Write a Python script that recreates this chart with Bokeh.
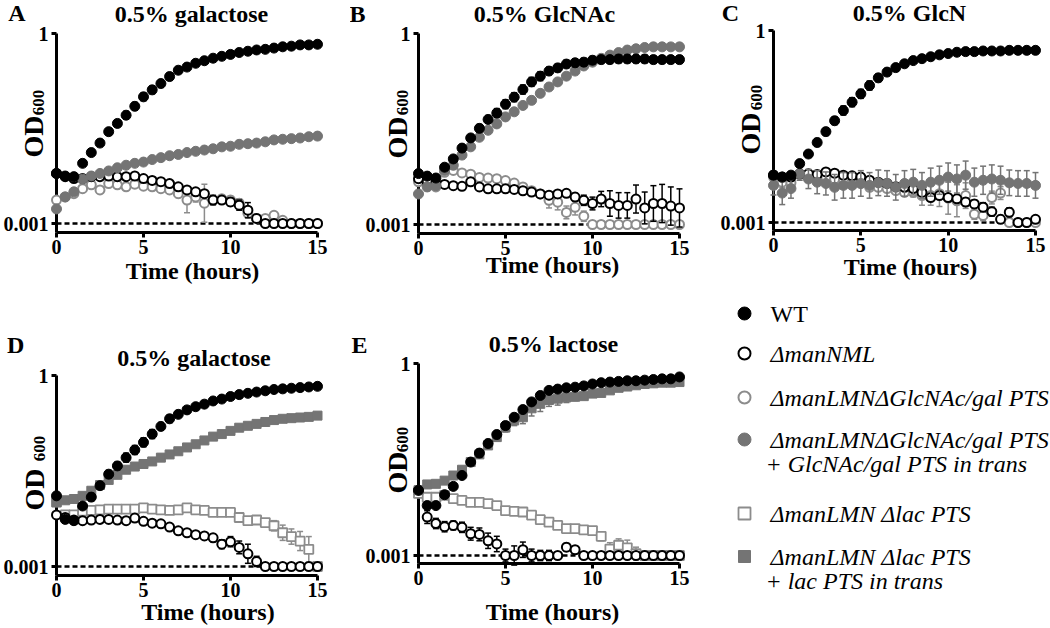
import numpy as np
from bokeh.plotting import figure
from bokeh.models import ColumnDataSource, Range1d, FixedTicker, Span
from bokeh.layouts import row, column
from bokeh.embed import file_html
from bokeh.resources import INLINE
from bokeh.core.properties import value

# ---------------- data (log10 OD600) ----------------
time_h = [0, 0.5, 1, 1.5, 2, 2.5, 3, 3.5, 4, 4.5, 5, 5.5, 6, 6.5, 7, 7.5,
          8, 8.5, 9, 9.5, 10, 10.5, 11, 11.5, 12, 12.5, 13, 13.5, 14, 14.5, 15]

# A: 0.5% galactose
a_wt = [-2.21, -2.25, -2.26, -2.05, -1.88, -1.73, -1.55, -1.42, -1.29, -1.15, -1.0, -0.89, -0.79, -0.68, -0.58, -0.53,
        -0.47, -0.43, -0.39, -0.36, -0.33, -0.30, -0.28, -0.26, -0.25, -0.23, -0.21, -0.20, -0.18, -0.18, -0.17]
a_nml = [-2.21, -2.26, -2.29, -2.29, -2.26, -2.26, -2.25, -2.26, -2.26, -2.25, -2.29, -2.32, -2.34, -2.37, -2.42, -2.47,
         -2.5, -2.53, -2.63, -2.63, -2.66, -2.71, -2.79, -2.92, -3, -3, -3, -3, -3, -3, -3]
a_glc_del = [-2.63, -2.58, -2.53, -2.45, -2.39, -2.47, -2.37, -2.39, -2.42, -2.38, -2.41, -2.42, -2.45, -2.47, -2.53, -2.63,
             -2.58, -2.68, -2.63, -2.61, -2.63, -2.68, -2.84, -2.92, -2.92, -2.87, -2.95, -3, -3, -3, -3]
a_glc_comp = [-2.77, -2.58, -2.5, -2.3, -2.25, -2.21, -2.17, -2.12, -2.08, -2.05, -2.03, -1.99, -1.96, -1.93, -1.91, -1.88,
              -1.86, -1.84, -1.82, -1.79, -1.78, -1.75, -1.74, -1.73, -1.71, -1.68, -1.67, -1.66, -1.65, -1.63, -1.62]
a_wt_err = [0.03, 0.04, 0.04, 0.04, 0.05, 0.05, 0.05, 0.05, 0.06, 0.06, 0.06, 0.06, 0.06, 0.06, 0.05, 0.04,
            0.03, 0.02, 0.02, 0.02, 0.02, 0.02, 0.01, 0.01, 0.01, 0.01, 0.01, 0.01, 0.01, 0.01, 0.01]
a_nml_err = [0.02, 0.02, 0.02, 0.02, 0.02, 0.02, 0.02, 0.02, 0.02, 0.02, 0.02, 0.02, 0.03, 0.03, 0.03, 0.04,
             0.04, 0.05, 0.07, 0.05, 0.06, 0.08, 0.12, 0.06, 0, 0, 0, 0, 0, 0, 0]
a_glc_del_err = [0.03, 0.04, 0.05, 0.04, 0.04, 0.04, 0.03, 0.03, 0.04, 0.03, 0.04, 0.04, 0.05, 0.05, 0.06, 0.2,
                 0.08, 0.3, 0.08, 0.06, 0.06, 0.07, 0.06, 0.04, 0.03, 0.03, 0.03, 0, 0, 0, 0]
a_glc_comp_err = [0.03, 0.03, 0.03, 0.02, 0.02, 0.02, 0.02, 0.02, 0.02, 0.02, 0.02, 0.02, 0.02, 0.02, 0.02, 0.02,
                  0.02, 0.02, 0.02, 0.02, 0.02, 0.03, 0.03, 0.03, 0.03, 0.04, 0.04, 0.04, 0.04, 0.04, 0.04]

# B: 0.5% GlcNAc
b_wt = [-2.20, -2.24, -2.27, -2.10, -1.97, -1.80, -1.64, -1.49, -1.35, -1.25, -1.11, -1.0, -0.88, -0.76, -0.67, -0.59,
        -0.54, -0.48, -0.46, -0.45, -0.42, -0.41, -0.41, -0.40, -0.40, -0.40, -0.40, -0.41, -0.41, -0.41, -0.41]
b_nml = [-2.28, -2.33, -2.36, -2.37, -2.39, -2.40, -2.33, -2.41, -2.44, -2.44, -2.44, -2.45, -2.47, -2.49, -2.52, -2.54,
         -2.52, -2.51, -2.57, -2.62, -2.67, -2.60, -2.67, -2.70, -2.70, -2.60, -2.74, -2.67, -2.67, -2.71, -2.74]
b_glc_del = [-2.33, -2.36, -2.41, -2.18, -2.15, -2.19, -2.21, -2.26, -2.27, -2.28, -2.31, -2.35, -2.41, -2.47, -2.52, -2.62,
             -2.65, -2.81, -2.73, -2.87, -3, -3, -3, -3, -3, -3, -3, -3, -3, -3, -3]
b_glc_comp = [-2.52, -2.41, -2.39, -2.15, -2.07, -1.91, -1.78, -1.63, -1.52, -1.42, -1.31, -1.23, -1.13, -1.05, -0.94, -0.84,
              -0.76, -0.67, -0.59, -0.51, -0.45, -0.39, -0.34, -0.30, -0.26, -0.24, -0.22, -0.21, -0.21, -0.21, -0.21]
b_wt_err = [0.03, 0.04, 0.04, 0.04, 0.05, 0.05, 0.05, 0.06, 0.06, 0.07, 0.07, 0.07, 0.07, 0.07, 0.07, 0.06,
            0.06, 0.06, 0.06, 0.06, 0.06, 0.06, 0.06, 0.06, 0.06, 0.06, 0.06, 0.06, 0.06, 0.06, 0.06]
b_nml_err = [0.02, 0.02, 0.02, 0.02, 0.02, 0.02, 0.02, 0.02, 0.02, 0.02, 0.02, 0.02, 0.02, 0.03, 0.03, 0.04,
             0.05, 0.05, 0.06, 0.08, 0.1, 0.12, 0.2, 0.2, 0.2, 0.22, 0.25, 0.28, 0.3, 0.3, 0.3]
b_glc_del_err = [0.03, 0.04, 0.03, 0.03, 0.03, 0.03, 0.02, 0.02, 0.02, 0.02, 0.03, 0.03, 0.04, 0.05, 0.05, 0.12,
                 0.12, 0.1, 0.12, 0.08, 0, 0, 0, 0, 0, 0, 0, 0, 0, 0, 0]
b_glc_comp_err = [0.04, 0.06, 0.05, 0.05, 0.06, 0.05, 0.04, 0.04, 0.03, 0.03, 0.03, 0.03, 0.03, 0.03, 0.03, 0.03,
                  0.03, 0.03, 0.03, 0.02, 0.02, 0.02, 0.02, 0.02, 0.02, 0.02, 0.02, 0.02, 0.02, 0.02, 0.02]

# C: 0.5% GlcN
c_wt = [-2.26, -2.29, -2.26, -2.08, -1.93, -1.75, -1.58, -1.41, -1.25, -1.12, -0.99, -0.86, -0.74, -0.65, -0.58, -0.52,
        -0.47, -0.44, -0.41, -0.38, -0.36, -0.34, -0.33, -0.33, -0.32, -0.32, -0.32, -0.31, -0.31, -0.31, -0.31]
c_nml = [-2.26, -2.29, -2.29, -2.24, -2.24, -2.25, -2.21, -2.23, -2.26, -2.27, -2.29, -2.34, -2.37, -2.39, -2.44, -2.45,
         -2.47, -2.53, -2.61, -2.58, -2.61, -2.63, -2.68, -2.71, -2.76, -2.83, -2.95, -2.84, -3, -3, -2.95]
c_glc_del = [-2.29, -2.37, -2.38, -2.25, -2.29, -2.32, -2.29, -2.32, -2.37, -2.38, -2.39, -2.45, -2.45, -2.47, -2.50, -2.53,
             -2.53, -2.58, -2.58, -2.55, -2.62, -2.66, -2.58, -2.87, -2.89, -2.61, -2.54, -3, -3, -3, -3]
c_glc_comp = [-2.42, -2.54, -2.47, -2.24, -2.32, -2.37, -2.39, -2.45, -2.42, -2.42, -2.39, -2.42, -2.38, -2.39, -2.45, -2.39,
              -2.37, -2.42, -2.37, -2.34, -2.29, -2.32, -2.26, -2.37, -2.34, -2.32, -2.34, -2.38, -2.39, -2.39, -2.42]
c_wt_err = [0.03, 0.04, 0.04, 0.05, 0.05, 0.06, 0.06, 0.06, 0.07, 0.07, 0.07, 0.07, 0.06, 0.05, 0.05, 0.04,
            0.04, 0.03, 0.02, 0.02, 0.02, 0.01, 0.01, 0.01, 0.01, 0.01, 0.01, 0.01, 0.01, 0.01, 0.01]
c_nml_err = [0.03, 0.03, 0.03, 0.02, 0.02, 0.02, 0.02, 0.02, 0.02, 0.02, 0.02, 0.02, 0.02, 0.02, 0.03, 0.03,
             0.04, 0.05, 0.05, 0.05, 0.05, 0.05, 0.06, 0.06, 0.07, 0.07, 0.06, 0.07, 0.05, 0.05, 0.05]
c_glc_del_err = [0.1, 0.08, 0.06, 0.04, 0.05, 0.05, 0.05, 0.05, 0.05, 0.05, 0.05, 0.05, 0.05, 0.05, 0.06, 0.06,
                 0.07, 0.15, 0.15, 0.2, 0.25, 0.25, 0.2, 0.08, 0.08, 0.1, 0.1, 0, 0, 0, 0]
c_glc_comp_err = [0.15, 0.18, 0.15, 0.1, 0.15, 0.18, 0.18, 0.2, 0.2, 0.2, 0.2, 0.2, 0.2, 0.2, 0.2, 0.2,
                  0.2, 0.2, 0.22, 0.22, 0.22, 0.22, 0.22, 0.22, 0.22, 0.22, 0.22, 0.2, 0.2, 0.2, 0.2]

# D: 0.5% galactose
d_wt = [-1.89, -2.26, -2.28, -2.05, -1.91, -1.73, -1.55, -1.42, -1.29, -1.17, -1.05, -0.92, -0.80, -0.68, -0.61, -0.54,
        -0.49, -0.45, -0.40, -0.37, -0.33, -0.30, -0.28, -0.26, -0.24, -0.22, -0.21, -0.20, -0.19, -0.18, -0.17]
d_nml = [-2.19, -2.23, -2.27, -2.28, -2.27, -2.26, -2.26, -2.27, -2.28, -2.24, -2.29, -2.32, -2.33, -2.38, -2.44, -2.47,
         -2.50, -2.52, -2.55, -2.65, -2.61, -2.70, -2.80, -2.92, -3, -3, -3, -3, -3, -3, -3]
d_lac_del = [-1.99, -2.19, -2.19, -2.13, -2.12, -2.11, -2.10, -2.10, -2.10, -2.10, -2.08, -2.10, -2.11, -2.12, -2.11, -2.08,
             -2.11, -2.12, -2.15, -2.15, -2.15, -2.23, -2.28, -2.27, -2.31, -2.36, -2.47, -2.53, -2.60, -2.73, -3]
d_lac_comp = [-1.99, -1.96, -1.94, -1.89, -1.81, -1.72, -1.64, -1.56, -1.48, -1.43, -1.39, -1.35, -1.29, -1.24, -1.19, -1.13,
              -1.08, -1.02, -0.96, -0.92, -0.87, -0.82, -0.79, -0.76, -0.73, -0.70, -0.68, -0.67, -0.66, -0.65, -0.63]
d_wt_err = [0.03, 0.06, 0.05, 0.05, 0.06, 0.06, 0.06, 0.06, 0.07, 0.07, 0.07, 0.07, 0.06, 0.06, 0.05, 0.04,
            0.03, 0.02, 0.02, 0.02, 0.02, 0.02, 0.01, 0.01, 0.01, 0.01, 0.01, 0.01, 0.01, 0.01, 0.01]
d_nml_err = [0.02, 0.02, 0.02, 0.02, 0.02, 0.02, 0.02, 0.02, 0.02, 0.02, 0.02, 0.02, 0.02, 0.03, 0.03, 0.04,
             0.04, 0.05, 0.06, 0.07, 0.08, 0.1, 0.15, 0.08, 0, 0, 0, 0, 0, 0, 0]
d_lac_del_err = [0.02, 0.03, 0.03, 0.02, 0.02, 0.02, 0.02, 0.02, 0.02, 0.02, 0.02, 0.02, 0.02, 0.02, 0.03, 0.03,
                 0.04, 0.04, 0.04, 0.04, 0.04, 0.05, 0.06, 0.06, 0.06, 0.08, 0.12, 0.12, 0.15, 0.2, 0]
d_lac_comp_err = [0.03, 0.03, 0.03, 0.03, 0.04, 0.04, 0.05, 0.05, 0.05, 0.05, 0.05, 0.05, 0.05, 0.05, 0.05, 0.05,
                  0.05, 0.05, 0.05, 0.05, 0.05, 0.05, 0.05, 0.05, 0.05, 0.05, 0.05, 0.05, 0.05, 0.05, 0.05]

# E: 0.5% lactose
e_wt = [-1.98, -2.22, -2.22, -2.05, -1.92, -1.75, -1.54, -1.40, -1.25, -1.11, -0.97, -0.84, -0.72, -0.60, -0.50, -0.42,
        -0.40, -0.38, -0.37, -0.35, -0.32, -0.30, -0.29, -0.28, -0.27, -0.27, -0.26, -0.25, -0.24, -0.24, -0.21]
e_nml = [-1.98, -2.40, -2.50, -2.55, -2.53, -2.56, -2.66, -2.67, -2.77, -2.82, -3, -3, -2.91, -3, -3, -3,
         -3, -2.87, -2.91, -3, -3, -3, -3, -3, -3, -3, -3, -3, -3, -3, -3]
e_lac_del = [-2.03, -2.09, -2.09, -2.06, -2.11, -2.14, -2.17, -2.17, -2.19, -2.22, -2.30, -2.31, -2.32, -2.37, -2.44, -2.48,
             -2.53, -2.58, -2.58, -2.60, -2.61, -2.70, -2.90, -2.84, -2.88, -2.97, -3, -3, -3, -3, -3]
e_lac_comp = [-1.98, -1.89, -1.88, -1.83, -1.75, -1.66, -1.54, -1.42, -1.28, -1.15, -1.0, -0.89, -0.84, -0.70, -0.63, -0.57,
              -0.55, -0.53, -0.52, -0.51, -0.47, -0.46, -0.42, -0.38, -0.36, -0.34, -0.32, -0.31, -0.30, -0.30, -0.29]
e_wt_err = [0.03, 0.05, 0.04, 0.03, 0.03, 0.04, 0.05, 0.06, 0.06, 0.06, 0.06, 0.05, 0.05, 0.05, 0.05, 0.03,
            0.02, 0.02, 0.02, 0.02, 0.02, 0.02, 0.01, 0.01, 0.01, 0.01, 0.01, 0.01, 0.01, 0.01, 0.01]
e_nml_err = [0.03, 0.1, 0.08, 0.08, 0.07, 0.08, 0.1, 0.1, 0.12, 0.12, 0.1, 0.15, 0.12, 0.1, 0.08, 0.08,
             0.05, 0.06, 0.05, 0.03, 0, 0, 0, 0, 0, 0, 0, 0, 0, 0, 0]
e_lac_del_err = [0.02, 0.02, 0.02, 0.02, 0.02, 0.02, 0.02, 0.02, 0.02, 0.02, 0.02, 0.02, 0.02, 0.02, 0.02, 0.02,
                 0.03, 0.03, 0.04, 0.05, 0.05, 0.07, 0.1, 0.1, 0.12, 0.1, 0.03, 0, 0, 0, 0]
e_lac_comp_err = [0.03, 0.02, 0.02, 0.02, 0.03, 0.03, 0.04, 0.05, 0.06, 0.06, 0.07, 0.08, 0.1, 0.12, 0.12, 0.1,
                  0.1, 0.08, 0.06, 0.05, 0.04, 0.03, 0.02, 0.02, 0.02, 0.02, 0.02, 0.02, 0.02, 0.02, 0.02]

panel_titles = ["0.5% galactose", "0.5% GlcNAc", "0.5% GlcN", "0.5% galactose", "0.5% lactose"]
panel_letters = ["A", "B", "C", "D", "E"]
x_axis_title = "Time (hours)"
x_ticks = [0, 5, 10, 15]
y_ticks = [0.001, 1]
y_tick_labels = {0.001: "0.001", 1: "1"}
detection_limit = 0.001

legend_labels = ["WT", "\u0394manNML", "\u0394manLMN\u0394GlcNAc/gal PTS",
                 "\u0394manLMN\u0394GlcNAc/gal PTS", "\u0394manLMN \u0394lac PTS", "\u0394manLMN \u0394lac PTS"]
legend_second_lines = ["", "", "", "+ GlcNAc/gal PTS in trans", "", "+ lac PTS in trans"]
legend_keys = ["wt", "nml", "glc_del", "glc_comp", "lac_del", "lac_comp"]

# ---------------- styling ----------------
FONT = "Liberation Serif"
GRAY = "#747474"
LGRAY = "#8c8c8c"
STYLES = {
    "wt": dict(marker="circle", size=10, fill="#000000", line="#000000", lw=1.0, err="#000000"),
    "nml": dict(marker="circle", size=9, fill="#ffffff", line="#000000", lw=2.0, err="#000000"),
    "glc_del": dict(marker="circle", size=9, fill="#ffffff", line=LGRAY, lw=2.0, err=LGRAY),
    "glc_comp": dict(marker="circle", size=10, fill=GRAY, line=GRAY, lw=1.0, err=GRAY),
    "lac_del": dict(marker="square", size=9, fill="#ffffff", line=LGRAY, lw=1.8, err=LGRAY),
    "lac_comp": dict(marker="square", size=9, fill=GRAY, line=GRAY, lw=1.0, err=GRAY),
}

# page geometry of each panel (pixels): figure origin/size, frame edges, pixel row of 0.001,
# and page positions of the panel's texts
PANELS = [
    dict(ox=0, oy=0, w=350, h=300, fl=54, fr=317, ft=33, fb=232, y3=223,
         letter=(14, 12), title=(190, 13), od=(30.5, 136), sub=(36, 102), xlab=(191, 270),
         series=[(a_glc_del, a_glc_del_err, "glc_del"), (a_nml, a_nml_err, "nml"),
                 (a_glc_comp, a_glc_comp_err, "glc_comp"), (a_wt, a_wt_err, "wt")]),
    dict(ox=350, oy=0, w=350, h=300, fl=418, fr=679, ft=33, fb=233, y3=224,
         letter=(357, 13), title=(544, 13), od=(396.5, 137), sub=(401.5, 102), xlab=(552, 264),
         series=[(b_glc_del, b_glc_del_err, "glc_del"), (b_nml, b_nml_err, "nml"),
                 (b_glc_comp, b_glc_comp_err, "glc_comp"), (b_wt, b_wt_err, "wt")]),
    dict(ox=700, oy=0, w=350, h=300, fl=773, fr=1035, ft=30, fb=230, y3=222,
         letter=(730, 12), title=(909, 12), od=(750, 133), sub=(756, 97), xlab=(910, 266),
         series=[(c_glc_del, c_glc_del_err, "glc_del"), (c_nml, c_nml_err, "nml"),
                 (c_glc_comp, c_glc_comp_err, "glc_comp"), (c_wt, c_wt_err, "wt")]),
    dict(ox=0, oy=300, w=350, h=328, fl=55, fr=317, ft=375, fb=575, y3=566,
         letter=(14, 344), title=(193, 357), od=(32.5, 489), sub=(38, 448), xlab=(207, 611),
         series=[(d_lac_del, d_lac_del_err, "lac_del"), (d_nml, d_nml_err, "nml"),
                 (d_lac_comp, d_lac_comp_err, "lac_comp"), (d_wt, d_wt_err, "wt")]),
    dict(ox=350, oy=300, w=350, h=328, fl=418, fr=679, ft=363, fb=563, y3=555,
         letter=(359, 344), title=(553, 343), od=(396.5, 472), sub=(401.5, 439), xlab=(552, 611),
         series=[(e_lac_del, e_lac_del_err, "lac_del"), (e_nml, e_nml_err, "nml"),
                 (e_lac_comp, e_lac_comp_err, "lac_comp"), (e_wt, e_wt_err, "wt")]),
]


def page_to_data(cfg, px, py):
    xd = (px - cfg["fl"]) / (cfg["fr"] - cfg["fl"]) * 15.0
    yd = 10 ** (-(py - cfg["ft"]) * 3.0 / (cfg["y3"] - cfg["ft"]))
    return xd, yd


def add_text(p, cfg, xy, text, size, angle=0.0, style="bold"):
    xd, yd = page_to_data(cfg, *xy)
    p.text(x=[xd], y=[yd], text=[text], text_font=value(FONT), text_font_size=f"{size}px",
           text_font_style=style, text_color="black", text_align="center",
           text_baseline="middle", angle=angle, level="overlay")


def make_panel(i, cfg):
    decades = 3.0 * (cfg["fb"] - cfg["ft"]) / (cfg["y3"] - cfg["ft"])
    p = figure(width=cfg["w"], height=cfg["h"], y_axis_type="log",
               x_range=Range1d(0, 15), y_range=Range1d(10 ** (-decades), 1),
               output_backend="svg", toolbar_location=None, title=None,
               min_border_left=cfg["fl"] - cfg["ox"], min_border_right=cfg["ox"] + cfg["w"] - cfg["fr"],
               min_border_top=cfg["ft"] - cfg["oy"], min_border_bottom=cfg["oy"] + cfg["h"] - cfg["fb"])
    p.frame_align = False
    p.outline_line_color = None
    p.grid.visible = False
    p.background_fill_color = "white"

    p.xaxis.ticker = FixedTicker(ticks=x_ticks, minor_ticks=[])
    p.yaxis.ticker = FixedTicker(ticks=y_ticks, minor_ticks=[])
    p.yaxis.major_label_overrides = y_tick_labels
    for ax in (p.xaxis, p.yaxis):
        ax.axis_line_width = 3
        ax.axis_line_color = "black"
        ax.major_tick_line_width = 3
        ax.major_tick_line_color = "black"
        ax.major_tick_out = 5
        ax.major_tick_in = 0
        ax.minor_tick_line_color = None
        ax.major_label_text_font = FONT
        ax.major_label_text_font_size = "20px"
        ax.major_label_text_font_style = "bold"
        ax.major_label_text_color = "black"
    p.xaxis.major_label_standoff = 2
    p.yaxis.major_label_standoff = 3

    p.add_layout(Span(location=detection_limit, dimension="width", line_color="black",
                      line_width=2.5, line_dash="5 3"))

    t = np.array(time_h)
    for vals, errs, key in cfg["series"]:
        st = STYLES[key]
        v = np.array(vals)
        e = np.array(errs)
        src = ColumnDataSource(dict(t=t, y=10 ** v, lo=10 ** (v - e), hi=10 ** (v + e)))
        p.segment(x0="t", y0="lo", x1="t", y1="hi", source=src, line_color=st["err"],
                  line_width=1.5, level="overlay")
        p.scatter(x="t", y="hi", source=src, marker="dash", size=6, line_color=st["err"],
                  line_width=1.5, level="overlay")
        p.scatter(x="t", y="lo", source=src, marker="dash", size=6, line_color=st["err"],
                  line_width=1.5, level="overlay")
        p.scatter(x="t", y="y", source=src, marker=st["marker"], size=st["size"],
                  fill_color=st["fill"], line_color=st["line"], line_width=st["lw"], level="overlay")

    add_text(p, cfg, cfg["letter"], panel_letters[i], 24)
    add_text(p, cfg, cfg["title"], panel_titles[i], 24)
    add_text(p, cfg, cfg["xlab"], x_axis_title, 24)
    add_text(p, cfg, cfg["od"], "OD", 28, angle=np.pi / 2)
    add_text(p, cfg, cfg["sub"], "600", 17, angle=np.pi / 2)
    return p


panels = [make_panel(i, cfg) for i, cfg in enumerate(PANELS)]

# ---------------- legend panel (coordinates = page pixels) ----------------
leg = figure(width=350, height=328, x_range=Range1d(700, 1050), y_range=Range1d(628, 300),
             output_backend="svg", toolbar_location=None, title=None,
             x_axis_location=None, y_axis_location=None, min_border=0)
leg.frame_align = False
leg.outline_line_color = None
leg.grid.visible = False
leg_rows = [313, 353, 397, 439, 513, 556]
second_gap = 24
for k, key in enumerate(legend_keys):
    st = STYLES[key]
    yk = leg_rows[k]
    leg.scatter(x=[744], y=[yk], marker=st["marker"], size=st["size"] + 3,
                fill_color=st["fill"], line_color=st["line"], line_width=st["lw"])
    leg.text(x=[770], y=[yk], text=[legend_labels[k]], text_font=value(FONT),
             text_font_size="24px", text_font_style="normal" if key == "wt" else "italic",
             text_baseline="middle", text_align="left", text_color="black")
    if legend_second_lines[k]:
        leg.text(x=[765], y=[yk + second_gap], text=[legend_second_lines[k]], text_font=value(FONT),
                 text_font_size="24px", text_font_style="italic",
                 text_baseline="middle", text_align="left", text_color="black")

layout = column(row(panels[0], panels[1], panels[2]),
                row(panels[3], panels[4], leg))

open("out.html", "w").write(file_html(layout, INLINE))
